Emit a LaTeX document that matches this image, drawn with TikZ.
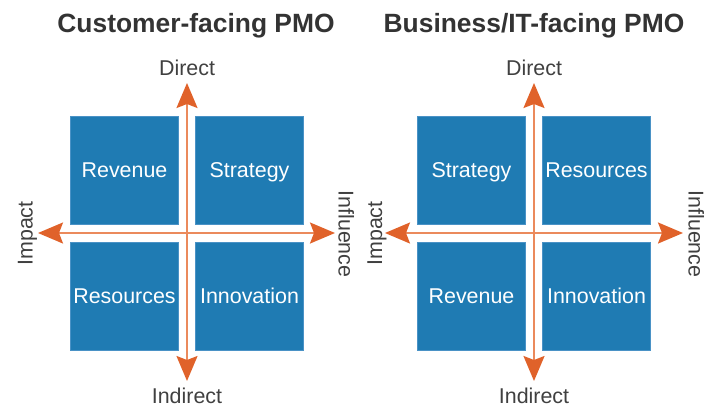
\documentclass[tikz,border=0pt]{standalone}
\usepackage{fontspec}
\setmainfont{Liberation Sans}
\usetikzlibrary{arrows.meta}
\definecolor{boxblue}{HTML}{1F7BB3}
\definecolor{boxedge}{HTML}{4A92C6}
\definecolor{axisline}{HTML}{EB8A5C}
\definecolor{axishead}{HTML}{E0622A}
\definecolor{labelgray}{HTML}{404040}
\definecolor{titlegray}{HTML}{333333}
\tikzset{
  quad/.style={fill=boxblue, draw=boxedge, line width=0.6bp, minimum width=108bp, minimum height=108bp,
    inner sep=0pt, text=white, font=\fontsize{21.5}{24}\selectfont, text height=15bp, text depth=0bp},
  axislbl/.style={text=labelgray, font=\fontsize{21.5}{24}\selectfont, inner sep=0pt, anchor=base},
  paneltitle/.style={text=titlegray, font=\fontsize{26.5}{30}\selectfont\bfseries, inner sep=0pt, anchor=base},
  axisarrow/.style={draw=axisline, line width=2bp,
    arrows={Stealth[length=25bp,width=21bp,inset=4bp,color=axishead]-Stealth[length=25bp,width=21bp,inset=4bp,color=axishead]}}
}
\begin{document}
\begin{tikzpicture}[x=1bp,y=-1bp]
\path[use as bounding box] (0,0) rectangle (712,406);
% ---------- left panel ----------
\node[paneltitle] (t1) at (196,32) {Customer-facing PMO};
\node[quad] (l11) at (124.5,170) {Revenue};
\node[quad] (l12) at (249.5,170) {Strategy};
\node[quad] (l21) at (124.5,296) {Resources};
\node[quad] (l22) at (249.5,296) {Innovation};
\coordinate (lt) at (187,83);
\coordinate (lb) at (187,381);
\coordinate (ll) at (38,233);
\coordinate (lr) at (335,233);
\draw[axisarrow] (lb) -- (lt);
\draw[axisarrow] (ll) -- (lr);
\node[axislbl] (ld) at (187,75) {Direct};
\node[axislbl] (li) at (187,403) {Indirect};
\node[axislbl, rotate=90] (lim) at (32.5,233.5) {Impact};
\node[axislbl, rotate=-90] (lin) at (338.5,234) {Influence};
% ---------- right panel ----------
\node[paneltitle] (t2) at (534,32) {Business/IT-facing PMO};
\node[quad] (r11) at (471.5,170) {Strategy};
\node[quad] (r12) at (596.5,170) {Resources};
\node[quad] (r21) at (471.5,296) {Revenue};
\node[quad] (r22) at (596.5,296) {Innovation};
\coordinate (rt) at (534,83);
\coordinate (rb) at (534,381);
\coordinate (rl) at (385,233);
\coordinate (rr) at (683,233);
\draw[axisarrow] (rb) -- (rt);
\draw[axisarrow] (rl) -- (rr);
\node[axislbl] (rd) at (534,75) {Direct};
\node[axislbl] (ri) at (534,403) {Indirect};
\node[axislbl, rotate=90] (rim) at (382,233.5) {Impact};
\node[axislbl, rotate=-90] (rin) at (688.5,234) {Influence};
\end{tikzpicture}
\end{document}
